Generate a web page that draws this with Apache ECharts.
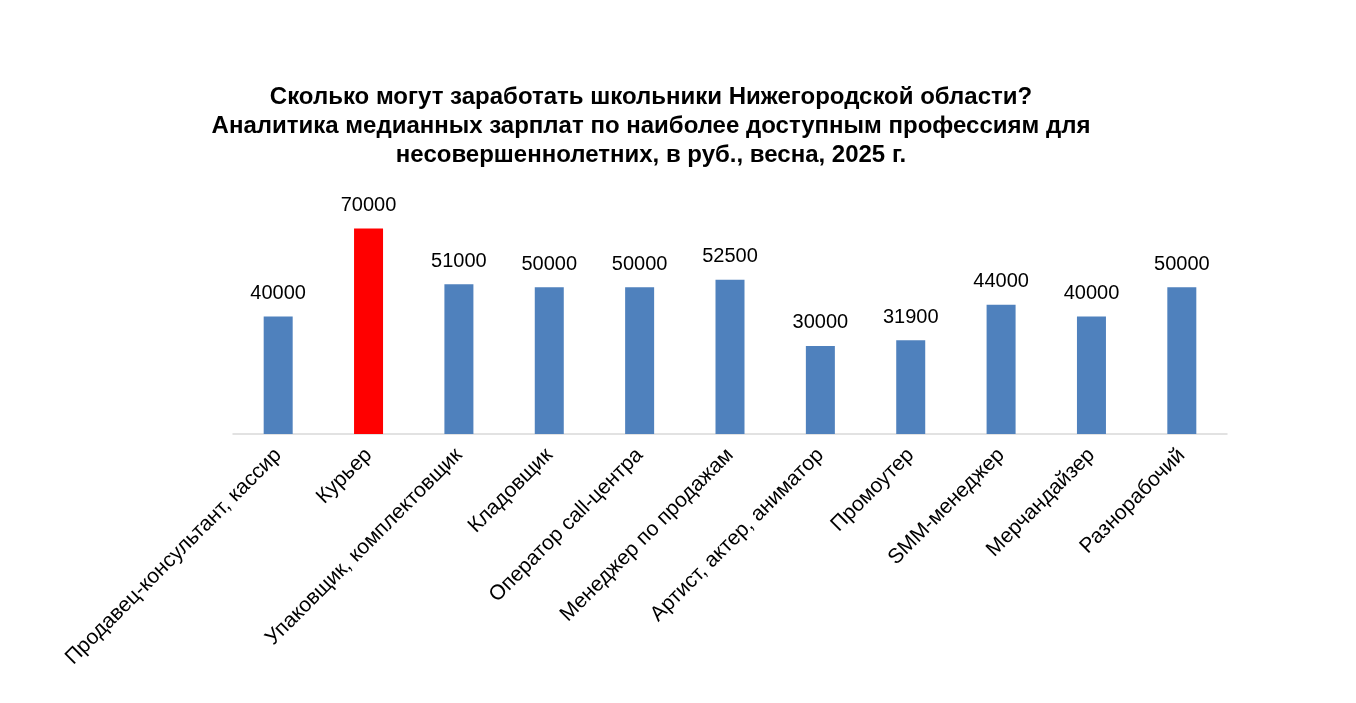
<!DOCTYPE html>
<html><head><meta charset="utf-8">
<script src="https://cdn.jsdelivr.net/npm/echarts@6/dist/echarts.min.js"></script>
<style>html,body{margin:0;padding:0;background:#fff}#c{width:1356px;height:703px}</style>
</head><body><div id="c"></div>
<script>
const categories = ["Продавец-консультант, кассир","Курьер","Упаковщик, комплектовщик","Кладовщик","Оператор call-центра","Менеджер по продажам","Артист, актер, аниматор","Промоутер","SMM-менеджер","Мерчандайзер","Разнорабочий"];
const values = [40000,70000,51000,50000,50000,52500,30000,31900,44000,40000,50000];
const highlightIndex = 1;
const chart = echarts.init(document.getElementById('c'));
chart.setOption({
  animation:false,
  title:{text:"Сколько могут заработать школьники Нижегородской области?\nАналитика медианных зарплат по наиболее доступным профессиям для\nнесовершеннолетних, в руб., весна, 2025 г.",
    left:646, top:78, textAlign:'center',
    textStyle:{fontFamily:'Liberation Sans, Arial',fontSize:24,fontWeight:'bold',color:'#000',lineHeight:29}},
  grid:{left:233,right:129,top:199,bottom:269},
  xAxis:{type:'category',data:categories,
    axisLine:{lineStyle:{color:'#d9d9d9',width:1.5}},axisTick:{show:false},
    axisLabel:{interval:0,rotate:45,fontFamily:'Liberation Sans, Arial',fontSize:21,color:'#000',margin:18}},
  yAxis:{type:'value',min:0,max:80000,show:false,splitLine:{show:false}},
  series:[{type:'bar',barWidth:29,
    data:values.map((v,i)=>({value:v,itemStyle:{color:i===highlightIndex?'#ff0000':'#4f81bd'}})),
    label:{show:true,position:'top',distance:13,fontFamily:'Liberation Sans, Arial',fontSize:20,color:'#000'}}]
});
</script></body></html>
